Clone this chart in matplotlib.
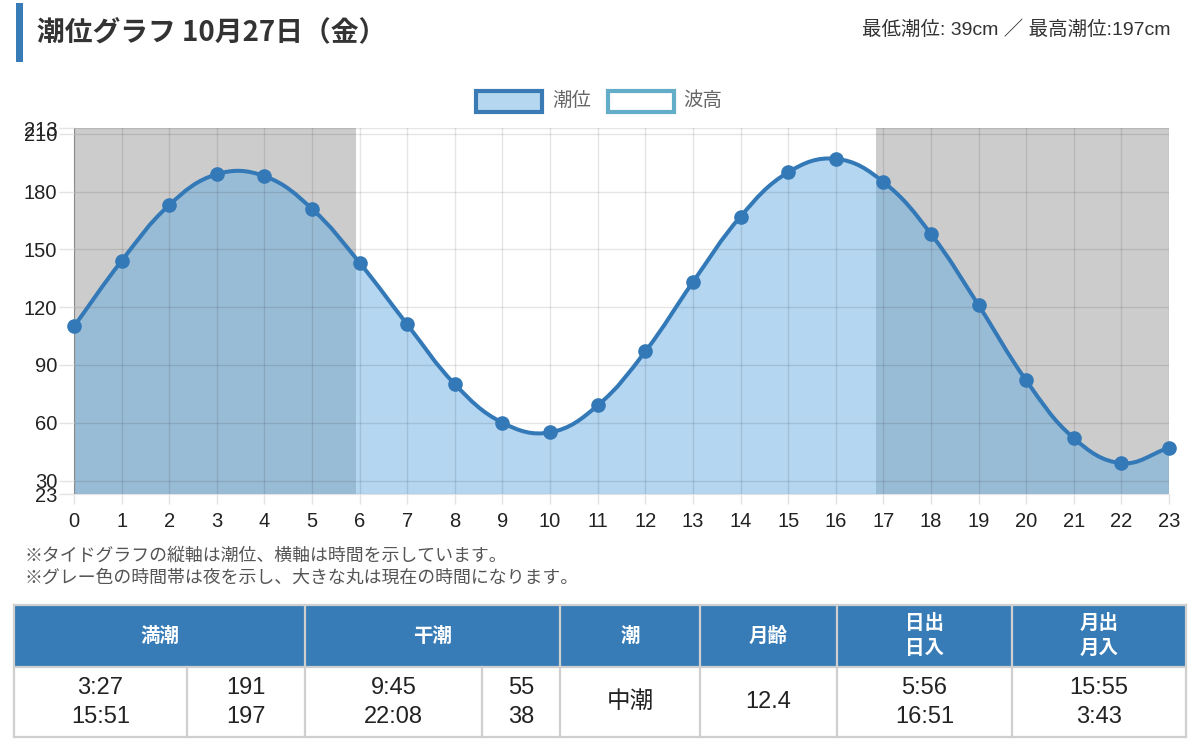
import numpy as np
import matplotlib
matplotlib.use("Agg")
import matplotlib.pyplot as plt
from matplotlib.path import Path
from matplotlib.patches import PathPatch, Rectangle

plt.rcParams['font.family'] = ['Liberation Sans', 'Noto Sans CJK JP', 'DejaVu Sans']

# Data
hours = np.arange(0, 24)
tide_cm = np.array([110, 144, 173, 189, 188, 171, 143, 111, 80, 60, 55, 69,
                    97, 133, 167, 190, 197, 185, 158, 121, 82, 52, 39, 47])
sunrise_h = 5 + 56 / 60
sunset_h = 16 + 51 / 60
y_ticks = [23, 30, 60, 90, 120, 150, 180, 210, 213]

title = "潮位グラフ 10月27日（金）"
summary = "最低潮位: 39cm ／ 最高潮位:197cm"
notes = ["※タイドグラフの縦軸は潮位、横軸は時間を示しています。",
         "※グレー色の時間帯は夜を示し、大きな丸は現在の時間になります。"]

header_labels = ["満潮", "干潮", "潮", "月齢", "日出\n日入", "月出\n月入"]
high_times = ["3:27", "15:51"]
high_levels = ["191", "197"]
low_times = ["9:45", "22:08"]
low_levels = ["55", "38"]
tide_name = "中潮"
moon_age = "12.4"
sun_times = ["5:56", "16:51"]
moon_times = ["15:55", "3:43"]

LINE = '#3479b7'
HEAD = '#377cb7'
W, H = 1200, 752


def spline_path(xs, ys, sx, sy, t=0.4):
    # Chart.js style bezier through the data points
    px, py = xs * sx, ys * sy
    n = len(xs)
    cpp, cpn = [], []
    for i in range(n):
        p = max(i - 1, 0)
        q = min(i + 1, n - 1)
        d01 = np.hypot(px[i] - px[p], py[i] - py[p])
        d12 = np.hypot(px[q] - px[i], py[q] - py[i])
        tot = d01 + d12 if d01 + d12 > 0 else 1
        fa, fb = t * d01 / tot, t * d12 / tot
        dx, dy = px[q] - px[p], py[q] - py[p]
        cpp.append(((px[i] - fa * dx) / sx, (py[i] - fa * dy) / sy))
        cpn.append(((px[i] + fb * dx) / sx, (py[i] + fb * dy) / sy))
    verts = [(xs[0], ys[0])]
    codes = [Path.MOVETO]
    for i in range(n - 1):
        verts += [cpn[i], cpp[i + 1], (xs[i + 1], ys[i + 1])]
        codes += [Path.CURVE4] * 3
    return verts, codes


fig = plt.figure(figsize=(W / 100, H / 100), dpi=100)

ax_l, ax_r, ax_t, ax_b = 74, 1169, 128, 494
ax = fig.add_axes([ax_l / W, 1 - ax_b / H, (ax_r - ax_l) / W, (ax_b - ax_t) / H])
ax.set_xlim(0, 23)
ax.set_ylim(23, 213)
sx = (ax_r - ax_l) / 23
sy = (ax_b - ax_t) / (213 - 23)

# night bands
ax.axvspan(0, sunrise_h, color='#cccccc', zorder=0.5, lw=0)
ax.axvspan(sunset_h, 23, color='#cccccc', zorder=0.5, lw=0)

verts, codes = spline_path(hours.astype(float), tide_cm.astype(float), sx, sy)
fill_verts = verts + [(hours[-1], 23), (hours[0], 23), (hours[0], tide_cm[0])]
fill_codes = codes + [Path.LINETO, Path.LINETO, Path.CLOSEPOLY]
ax.add_patch(PathPatch(Path(fill_verts, fill_codes), facecolor=(0.39, 0.67, 0.89, 0.48),
                       edgecolor='none', zorder=1))
ax.add_patch(PathPatch(Path(verts, codes), facecolor='none', edgecolor=LINE,
                       lw=2.9, zorder=3, capstyle='round'))
ax.plot(hours, tide_cm, 'o', color=LINE, markersize=9.5, zorder=4, clip_on=False)

ax.set_xticks(hours)
ax.set_yticks(y_ticks)
ax.grid(True, color='black', alpha=0.1, lw=1)
ax.set_axisbelow(False)
for l in ax.get_xgridlines() + ax.get_ygridlines():
    l.set_zorder(2)
ax.tick_params(axis='x', length=7, width=1, color='#e3e3e3', pad=6,
               labelsize=14.5, labelcolor='#222222')
ax.tick_params(axis='y', length=11, width=1, color='#e3e3e3', pad=1,
               labelsize=14.5, labelcolor='#222222')
for s in ['top', 'right']:
    ax.spines[s].set_visible(False)
ax.spines['left'].set_color('#9a9a9a')
ax.spines['bottom'].set_color('#e3e3e3')
ax.patch.set_alpha(0)

# overlay for text, legend and table in pixel coords
ov = fig.add_axes([0, 0, 1, 1], zorder=-1)
ov.set_xlim(0, W)
ov.set_ylim(H, 0)
ov.axis('off')

ov.add_patch(Rectangle((16, 3), 7, 59, color=HEAD, lw=0))
ov.text(37, 32, title, fontsize=20, fontweight='bold', color='#333333',
        ha='left', va='center', family=['Noto Sans CJK JP', 'DejaVu Sans'])
ov.text(1170, 30, summary, fontsize=14, color='#333333', ha='right', va='center')

# legend
ov.add_patch(Rectangle((476, 91), 66, 21, facecolor='#b5d8f0', edgecolor='#3a7ab5', lw=3))
ov.text(552, 101, "潮位", fontsize=14, color='#666666', ha='left', va='center')
ov.add_patch(Rectangle((608, 91), 66, 21, facecolor='white', edgecolor='#63adc8', lw=3))
ov.text(683, 101, "波高", fontsize=14, color='#666666', ha='left', va='center')

for i, t in enumerate(notes):
    ov.text(25, 556 + i * 22, t, fontsize=12.9, color='#555555', ha='left', va='center')

# table
tl, tr, tt, th, tb = 14, 1186, 605, 667, 737
col_x = [tl, 305, 560, 700, 837, 1012, tr]
sub_x = [187, 482]
ov.add_patch(Rectangle((tl, tt), tr - tl, th - tt, facecolor=HEAD, lw=0))
grid_c = '#cfcfcf'
for yy in [tt, th, tb]:
    ov.plot([tl, tr], [yy, yy], color=grid_c, lw=1.6)
for xx in col_x:
    ov.plot([xx, xx], [tt, tb], color=grid_c, lw=1.6)
for xx in sub_x:
    ov.plot([xx, xx], [th, tb], color=grid_c, lw=1.6)

for i, lab in enumerate(header_labels):
    cx = (col_x[i] + col_x[i + 1]) / 2
    ov.text(cx, 636, lab, fontsize=14, fontweight='bold', color='white',
            ha='center', va='center', linespacing=1.35,
            family=['Noto Sans CJK JP', 'DejaVu Sans'])

body_font = 17
line_y = [688, 717]


def two_lines(cx, vals):
    for yy, v in zip(line_y, vals):
        ov.text(cx, yy, v, fontsize=body_font, color='#222222', ha='center', va='center')


two_lines((tl + sub_x[0]) / 2, high_times)
two_lines((sub_x[0] + col_x[1]) / 2, high_levels)
two_lines((col_x[1] + sub_x[1]) / 2, low_times)
two_lines((sub_x[1] + col_x[2]) / 2, low_levels)
ov.text((col_x[2] + col_x[3]) / 2, 702, tide_name, fontsize=body_font, color='#222222',
        ha='center', va='center')
ov.text((col_x[3] + col_x[4]) / 2, 702, moon_age, fontsize=body_font, color='#222222',
        ha='center', va='center')
two_lines((col_x[4] + col_x[5]) / 2, sun_times)
two_lines((col_x[5] + col_x[6]) / 2, moon_times)

fig.savefig("out.png", dpi=100, facecolor='white')
